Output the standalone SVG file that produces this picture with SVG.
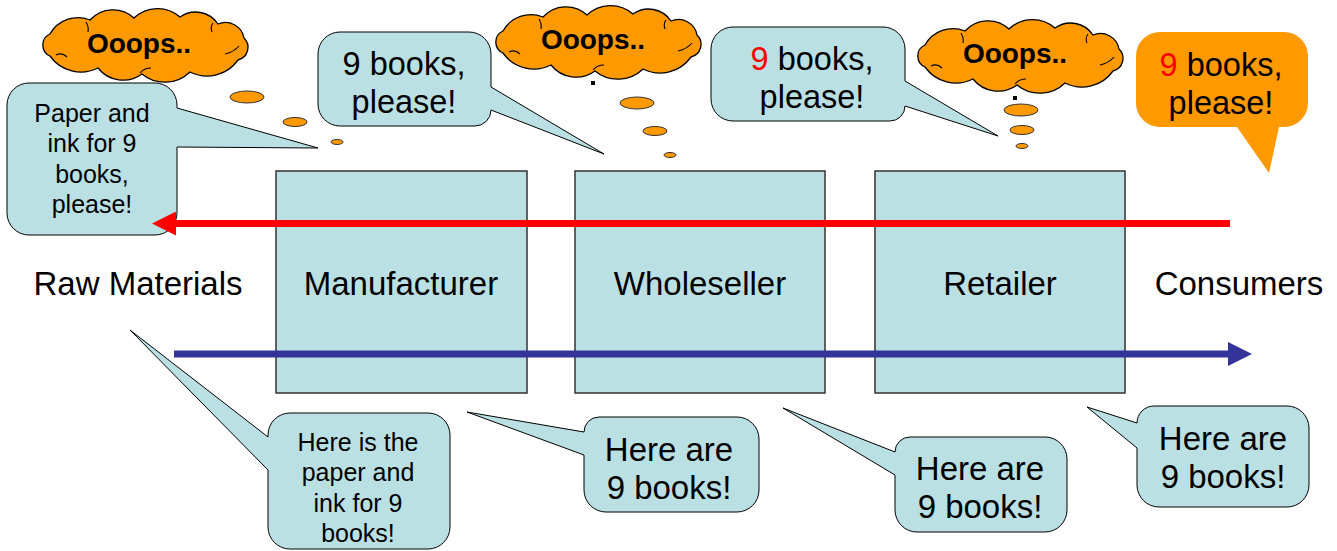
<svg xmlns="http://www.w3.org/2000/svg" xmlns:xlink="http://www.w3.org/1999/xlink" width="1337" height="551" viewBox="0 0 1337 551">
  <style>
    .box { fill: #BBE0E3; stroke: #333333; stroke-width: 1.5; }
    .callout { fill: #BBE0E3; stroke: #000000; stroke-width: 1; stroke-linejoin: round; }
    .callout-orange { fill: #FF9900; stroke: none; }
    .cloud { fill: #FF9900; stroke: #000000; stroke-width: 1.3; }
    .cloud-detail { fill: none; stroke: #000000; stroke-width: 1.1; }
    .bubble { fill: #FF9900; stroke: #333333; stroke-width: 1; }
    .tick { fill: #000000; }
    .t { font-family: "Liberation Sans", Arial, sans-serif; font-size: 33px; text-anchor: middle; fill: #000000; }
    .t-md { font-size: 32.5px; }
    .t-sm { font-size: 25px; }
    .t-oops { font-size: 28px; font-weight: bold; }
    .red { fill: #FF0000; }
    .flow-order { fill: none; stroke: #FF0000; stroke-width: 7; }
    .flow-goods { fill: none; stroke: #333399; stroke-width: 7; }
  </style>
  <defs>
    <marker id="head-red" markerUnits="userSpaceOnUse" markerWidth="24" markerHeight="24" refX="4" refY="12" orient="auto">
      <path d="M0,0 L24,12 L0,24 Z" fill="#FF0000"/>
    </marker>
    <marker id="head-blue" markerUnits="userSpaceOnUse" markerWidth="24" markerHeight="24" refX="4" refY="12" orient="auto">
      <path d="M0,0 L24,12 L0,24 Z" fill="#333399"/>
    </marker>
    <!-- thought cloud outline, 208 x 75 -->
    <g id="cloud">
      <path class="cloud" d="M8,26 A32,32 0 0 1 48,12 A31,31 0 0 1 92,10 A34,34 0 0 1 138,9 A27,27 0 0 1 176,16 A19,19 0 0 1 202,30 A13,13 0 0 1 196,52 A38,38 0 0 1 148,64 A36,36 0 0 1 100,66 A32,32 0 0 1 56,60 A38,38 0 0 1 8,48 A12,12 0 0 1 8,26 Z"/>
      <path class="cloud-detail" d="M14,47 Q20,44 25,49 M44,14 Q47,19 46,24 M171,15 Q168,19 170,24 M183,46 Q192,44 197,38 M98,65 Q102,60 109,60"/>
    </g>
  </defs>

  <rect width="1337" height="551" fill="#FFFFFF"/>

  <!-- supply chain stages -->
  <g id="node-raw">
    <text class="t" x="138" y="295">Raw Materials</text>
  </g>
  <g id="node-manufacturer">
    <rect class="box" x="276" y="171" width="251" height="222"/>
    <text class="t" x="401" y="295">Manufacturer</text>
  </g>
  <g id="node-wholeseller">
    <rect class="box" x="575" y="171" width="250" height="222"/>
    <text class="t" x="700" y="295">Wholeseller</text>
  </g>
  <g id="node-retailer">
    <rect class="box" x="875" y="171" width="250" height="222"/>
    <text class="t" x="1000" y="295">Retailer</text>
  </g>
  <g id="node-consumers">
    <text class="t" x="1239" y="295">Consumers</text>
  </g>

  <!-- thought clouds -->
  <g id="cloud-manufacturer">
    <use xlink:href="#cloud" href="#cloud" transform="translate(42,8)"/>
    <text class="t t-oops" x="139" y="53">Ooops..</text>
    <rect class="tick" x="137" y="84" width="3" height="5"/>
    <ellipse class="bubble" cx="247" cy="97" rx="17" ry="6"/>
    <ellipse class="bubble" cx="295" cy="122" rx="12" ry="4.5"/>
    <ellipse class="bubble" cx="337" cy="142" rx="6" ry="2.5"/>
  </g>
  <g id="cloud-wholeseller">
    <use xlink:href="#cloud" href="#cloud" transform="translate(495,5)"/>
    <text class="t t-oops" x="593" y="49">Ooops..</text>
    <rect class="tick" x="591" y="81" width="4" height="4"/>
    <ellipse class="bubble" cx="637" cy="103" rx="17" ry="6"/>
    <ellipse class="bubble" cx="655" cy="131" rx="12" ry="4.5"/>
    <ellipse class="bubble" cx="670" cy="155" rx="6" ry="2.5"/>
  </g>
  <g id="cloud-retailer">
    <use xlink:href="#cloud" href="#cloud" transform="translate(917,19)"/>
    <text class="t t-oops" x="1015" y="63">Ooops..</text>
    <rect class="tick" x="1013" y="96" width="4" height="4"/>
    <ellipse class="bubble" cx="1021" cy="110" rx="17" ry="6"/>
    <ellipse class="bubble" cx="1022" cy="130" rx="12" ry="4.5"/>
    <ellipse class="bubble" cx="1022" cy="146" rx="6" ry="2.5"/>
  </g>

  <!-- order callouts -->
  <g id="order-manufacturer">
    <path class="callout" d="M29,83 H155 A22,22 0 0 1 177,105 V108 L318,148 L177,147 V213 A22,22 0 0 1 155,235 H29 A22,22 0 0 1 7,213 V105 A22,22 0 0 1 29,83 Z"/>
    <text class="t t-sm" x="92" y="122">Paper and</text>
    <text class="t t-sm" x="92" y="152">ink for 9</text>
    <text class="t t-sm" x="92" y="183">books,</text>
    <text class="t t-sm" x="92" y="213">please!</text>
  </g>
  <g id="order-wholeseller">
    <path class="callout" d="M340,32 H469 A22,22 0 0 1 491,54 V87 L604,154 L491,110 A16,16 0 0 1 475,126 H340 A22,22 0 0 1 318,104 V54 A22,22 0 0 1 340,32 Z"/>
    <text class="t t-md" x="404" y="75">9 books,</text>
    <text class="t t-md" x="404" y="113">please!</text>
  </g>
  <g id="order-retailer">
    <path class="callout" d="M733,27 H883 A22,22 0 0 1 905,49 V81 L998,136 L905,106 A15,15 0 0 1 890,121 H733 A22,22 0 0 1 711,99 V49 A22,22 0 0 1 733,27 Z"/>
    <text class="t t-md" x="812" y="70"><tspan class="red">9</tspan> books,</text>
    <text class="t t-md" x="812" y="108">please!</text>
  </g>
  <g id="order-consumers">
    <path class="callout-orange" d="M1160,32 H1284 A24,24 0 0 1 1308,56 V103 A24,24 0 0 1 1284,127 H1279 L1269,173 L1237,127 H1160 A24,24 0 0 1 1136,103 V56 A24,24 0 0 1 1160,32 Z"/>
    <text class="t t-md" x="1221" y="76"><tspan class="red">9</tspan> books,</text>
    <text class="t t-md" x="1221" y="114">please!</text>
  </g>

  <!-- delivery callouts -->
  <g id="delivery-raw">
    <path class="callout" d="M290,413 H428 A22,22 0 0 1 450,435 V527 A22,22 0 0 1 428,549 H290 A22,22 0 0 1 268,527 V470 L130,330 L268,437 V435 A22,22 0 0 1 290,413 Z"/>
    <text class="t t-sm" x="358" y="451">Here is the</text>
    <text class="t t-sm" x="358" y="481">paper and</text>
    <text class="t t-sm" x="358" y="512">ink for 9</text>
    <text class="t t-sm" x="358" y="542">books!</text>
  </g>
  <g id="delivery-manufacturer">
    <path class="callout" d="M599,417 H737 A22,22 0 0 1 759,439 V490 A22,22 0 0 1 737,512 H606 A22,22 0 0 1 584,490 V455 L467,412 L584,432 A15,15 0 0 1 599,417 Z"/>
    <text class="t" x="669" y="461">Here are</text>
    <text class="t" x="669" y="499">9 books!</text>
  </g>
  <g id="delivery-wholeseller">
    <path class="callout" d="M910,437 H1045 A22,22 0 0 1 1067,459 V510 A22,22 0 0 1 1045,532 H917 A22,22 0 0 1 895,510 V475 L783,408 L895,452 A15,15 0 0 1 910,437 Z"/>
    <text class="t" x="980" y="480">Here are</text>
    <text class="t" x="980" y="518">9 books!</text>
  </g>
  <g id="delivery-retailer">
    <path class="callout" d="M1154,406 H1287 A22,22 0 0 1 1309,428 V485 A22,22 0 0 1 1287,507 H1159 A22,22 0 0 1 1137,485 V448 L1087,407 L1137,423 A17,17 0 0 1 1154,406 Z"/>
    <text class="t" x="1223" y="450">Here are</text>
    <text class="t" x="1223" y="488">9 books!</text>
  </g>

  <!-- flows: orders upstream (red), goods downstream (blue) -->
  <g id="connectors">
    <line class="flow-order" x1="1230" y1="223.5" x2="172" y2="223.5" marker-end="url(#head-red)"/>
    <line class="flow-goods" x1="174" y1="354" x2="1232" y2="354" marker-end="url(#head-blue)"/>
  </g>
</svg>
